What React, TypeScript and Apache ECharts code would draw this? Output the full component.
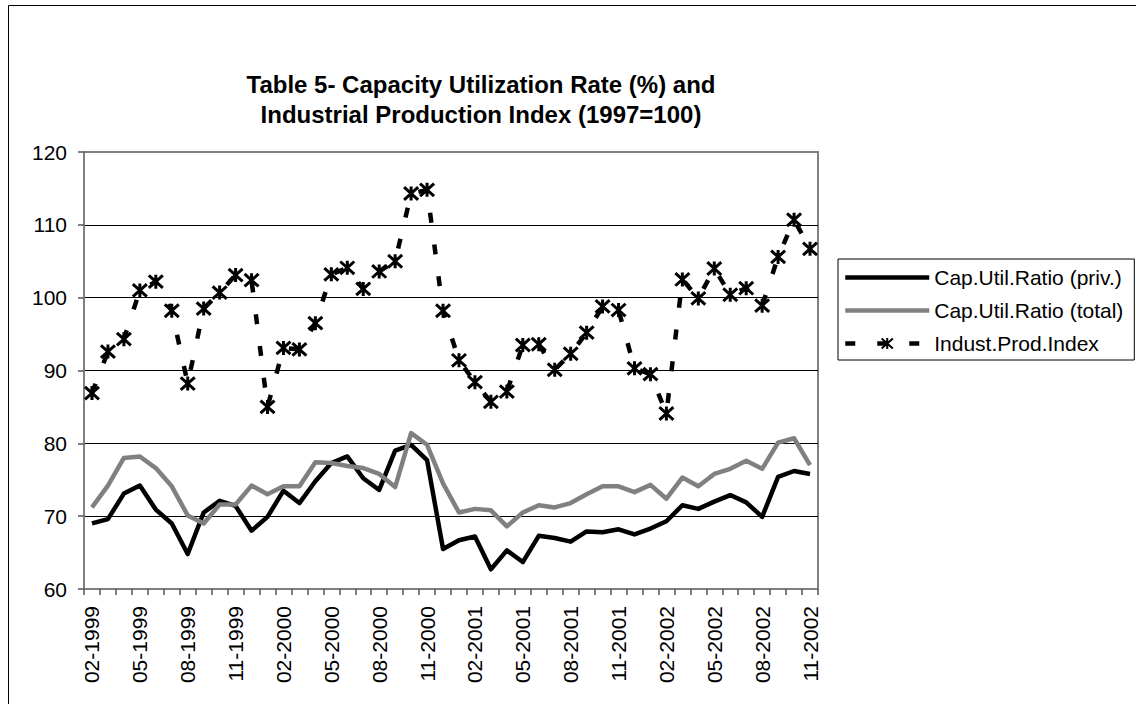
import React, { useEffect, useRef } from "react";
import * as echarts from "echarts";

const categories = [
  "02-1999","03-1999","04-1999","05-1999","06-1999","07-1999","08-1999","09-1999","10-1999","11-1999","12-1999",
  "01-2000","02-2000","03-2000","04-2000","05-2000","06-2000","07-2000","08-2000","09-2000","10-2000","11-2000","12-2000",
  "01-2001","02-2001","03-2001","04-2001","05-2001","06-2001","07-2001","08-2001","09-2001","10-2001","11-2001","12-2001",
  "01-2002","02-2002","03-2002","04-2002","05-2002","06-2002","07-2002","08-2002","09-2002","10-2002","11-2002",
];

const capUtilPriv = [
  69.0, 69.6, 73.1, 74.2, 70.9, 69.0, 64.8, 70.5, 72.1, 71.4, 68.0,
  69.9, 73.5, 71.8, 74.8, 77.3, 78.2, 75.2, 73.6, 79.0, 79.8, 77.7, 65.5,
  66.7, 67.2, 62.7, 65.3, 63.7, 67.3, 67.0, 66.5, 67.9, 67.8, 68.2, 67.5,
  68.3, 69.3, 71.5, 71.0, 72.0, 72.9, 71.9, 69.9, 75.4, 76.2, 75.8,
];

const capUtilTotal = [
  71.2, 74.2, 78.0, 78.2, 76.6, 74.1, 70.1, 69.0, 71.6, 71.6, 74.2,
  73.0, 74.1, 74.1, 77.4, 77.3, 76.9, 76.6, 75.8, 74.0, 81.4, 79.8, 74.5,
  70.5, 71.0, 70.8, 68.6, 70.5, 71.5, 71.2, 71.8, 73.0, 74.1, 74.1, 73.3,
  74.3, 72.4, 75.3, 74.1, 75.8, 76.5, 77.6, 76.5, 80.1, 80.7, 77.0,
];

const industProdIndex = [
  86.9, 92.6, 94.3, 101.0, 102.2, 98.2, 88.2, 98.5, 100.7, 103.1, 102.4,
  85.0, 93.1, 92.9, 96.5, 103.2, 104.1, 101.2, 103.6, 105.0, 114.3, 114.8, 98.2,
  91.4, 88.4, 85.7, 87.1, 93.5, 93.6, 90.1, 92.3, 95.2, 98.8, 98.3, 90.3,
  89.5, 84.1, 102.5, 99.9, 104.0, 100.4, 101.3, 98.9, 105.6, 110.7, 106.7,
];

const seriesNames = [
  "Cap.Util.Ratio (priv.)",
  "Cap.Util.Ratio (total)",
  "Indust.Prod.Index",
];

const titleLines = [
  "Table 5- Capacity Utilization Rate (%) and",
  "Industrial Production Index (1997=100)",
];

const FONT = '"Liberation Sans", Arial, sans-serif';
const STAR = "path://M5,0 L5,10 M0,0.5 L10,9.5 M0,9.5 L10,0.5";
const BAR_ICON = "path://M0,0 L84,0 L84,4.5 L0,4.5 Z";

export default function App() {
  const ref = useRef<HTMLDivElement>(null);

  useEffect(() => {
    if (!ref.current) return;
    const chart = echarts.init(ref.current, undefined, { renderer: "svg" });
    chart.setOption({
      animation: false,
      backgroundColor: "#fff",
      textStyle: { fontFamily: FONT },
      graphic: [
        {
          type: "rect",
          z: -10,
          shape: { x: 8.5, y: 5.5, width: 1400, height: 900 },
          style: { fill: "none", stroke: "#000", lineWidth: 1 },
        },
        {
          type: "text",
          x: 481,
          y: 69,
          style: {
            text: titleLines.join("\n"),
            fontSize: 24,
            fontWeight: "bold",
            fontFamily: FONT,
            fill: "#000",
            align: "center",
            verticalAlign: "top",
            lineHeight: 30,
          },
        },
      ],
      legend: {
        orient: "vertical",
        left: 838,
        top: 259,
        padding: [8, 11, 6, 5],
        borderColor: "#000",
        borderWidth: 1,
        itemWidth: 84,
        itemHeight: 14,
        itemGap: 12,
        symbolKeepAspect: true,
        lineStyle: { width: 4.5 },
        textStyle: { fontSize: 21, lineHeight: 21, color: "#000", fontFamily: FONT },
        data: [
          { name: seriesNames[0], icon: BAR_ICON },
          { name: seriesNames[1], icon: BAR_ICON },
          { name: seriesNames[2] },
        ],
      },
      grid: {
        left: 84,
        right: 318,
        top: 152,
        bottom: 115,
        show: true,
        borderColor: "#808080",
        borderWidth: 2,
      },
      xAxis: {
        type: "category",
        data: categories,
        boundaryGap: true,
        axisLine: { show: true, lineStyle: { color: "#808080", width: 2 } },
        axisTick: {
          show: true,
          interval: 0,
          alignWithLabel: false,
          length: 6,
          lineStyle: { color: "#555", width: 1.5 },
        },
        axisLabel: {
          interval: 2,
          rotate: 90,
          margin: 17,
          fontSize: 21,
          color: "#000",
          fontFamily: FONT,
        },
        splitLine: { show: false },
      },
      yAxis: {
        type: "value",
        min: 60,
        max: 120,
        interval: 10,
        axisLine: { show: true, lineStyle: { color: "#808080", width: 2 } },
        axisTick: { show: true, length: 6, lineStyle: { color: "#555", width: 1.5 } },
        axisLabel: { margin: 17, fontSize: 21, color: "#000", fontFamily: FONT },
        splitLine: {
          show: true,
          lineStyle: {
            color: ["#808080", "#000", "#000", "#000", "#000", "#000", "#808080"],
            width: 1,
          },
        },
      },
      series: [
        {
          name: seriesNames[0],
          type: "line",
          data: capUtilPriv,
          symbol: "none",
          lineStyle: { color: "#000", width: 4.5, join: "round" },
          itemStyle: { color: "#000" },
        },
        {
          name: seriesNames[1],
          type: "line",
          data: capUtilTotal,
          symbol: "none",
          lineStyle: { color: "#808080", width: 4.5, join: "round" },
          itemStyle: { color: "#808080" },
        },
        {
          name: seriesNames[2],
          type: "line",
          data: industProdIndex,
          symbol: STAR,
          symbolSize: 14,
          showAllSymbol: true,
          lineStyle: { color: "#000", width: 4.5, type: [10, 22] },
          itemStyle: { color: "#000", borderColor: "#000", borderWidth: 3 },
        },
      ],
    });
    return () => chart.dispose();
  }, []);

  return (
    <div
      ref={ref}
      style={{ position: "absolute", left: 0, top: 0, width: 1136, height: 704 }}
    />
  );
}
